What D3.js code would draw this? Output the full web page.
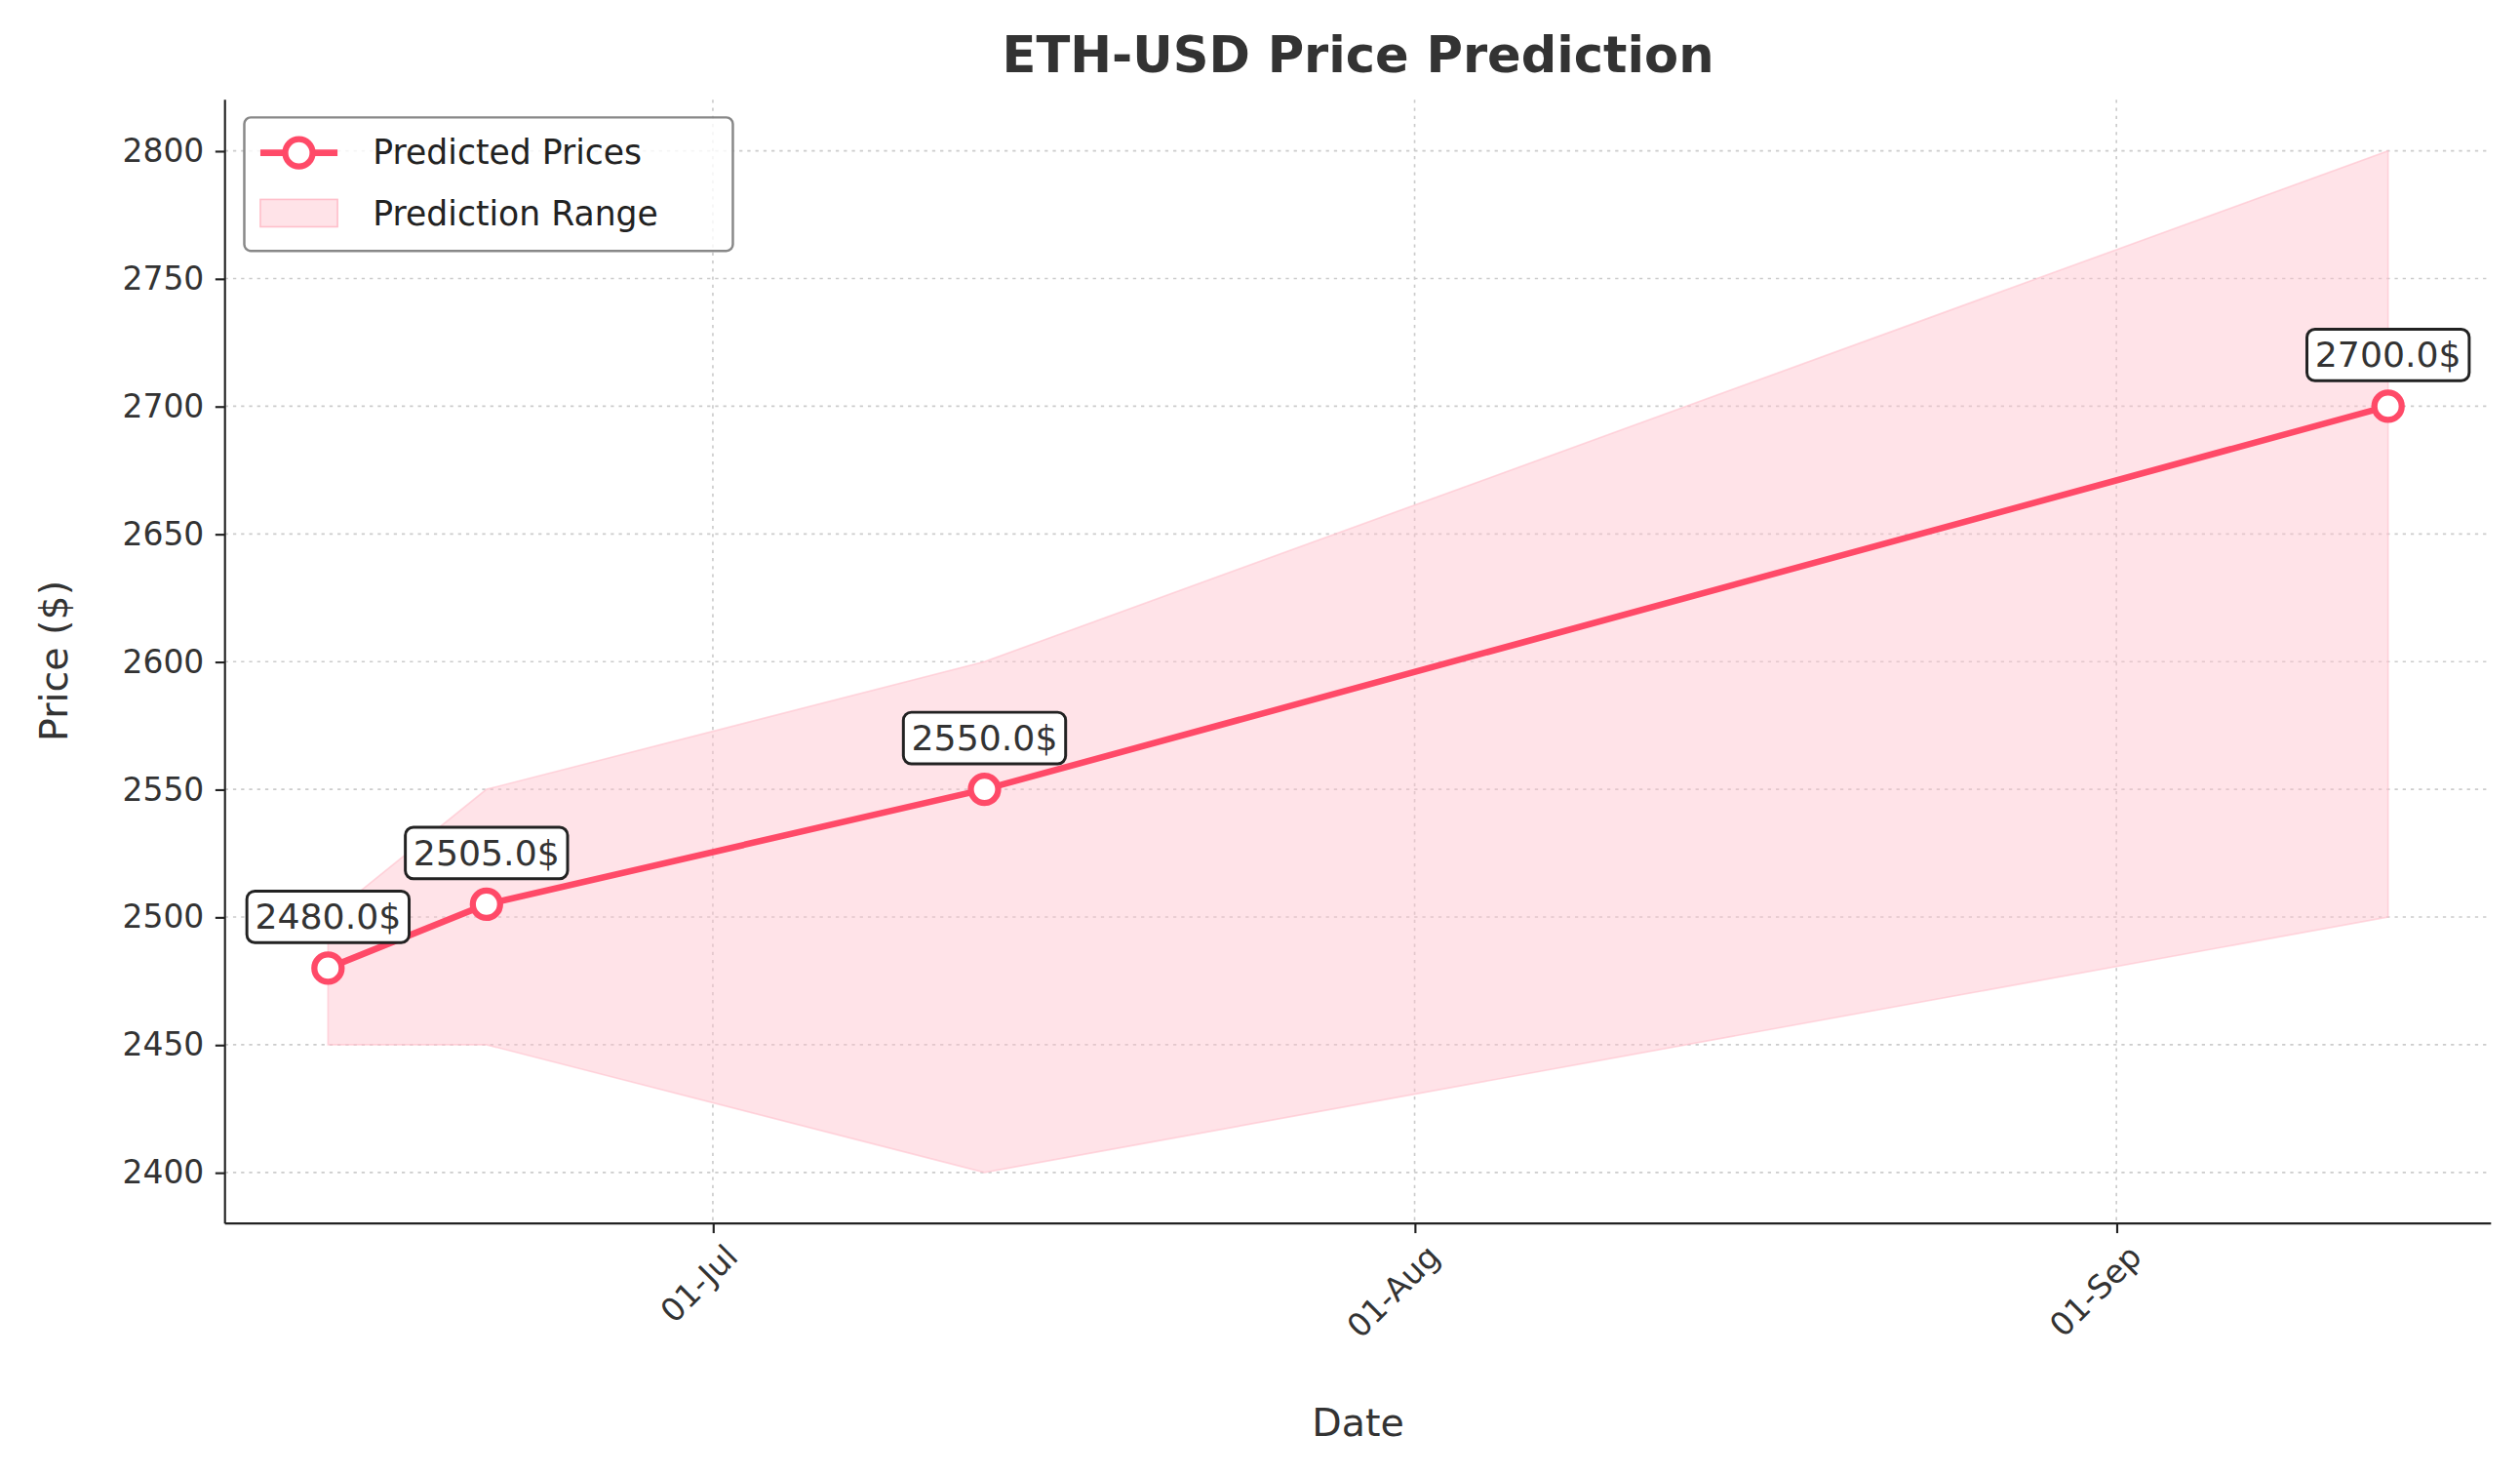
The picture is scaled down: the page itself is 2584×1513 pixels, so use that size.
<!DOCTYPE html>
<html><head><meta charset="utf-8">
<script src="https://cdn.jsdelivr.net/npm/d3@7"></script>
<style>body{margin:0;background:#fff}</style></head>
<body><svg id="c" width="2584" height="1513" viewBox="0 0 1568 918"></svg>
<script>
const dates = ["2024-06-14","2024-06-21","2024-07-13","2024-09-13"];
const predicted = [2480, 2505, 2550, 2700];
const lower = [2450, 2450, 2400, 2500];
const upper = [2500, 2550, 2600, 2800];
const yTicks = [2400,2450,2500,2550,2600,2650,2700,2750,2800];
const xTicks = ["2024-07-01","2024-08-01","2024-09-01"];
const P = d3.utcParse("%Y-%m-%d");
const data = dates.map((d,i)=>({d:P(d),p:predicted[i],lo:lower[i],hi:upper[i]}));
const svg = d3.select("#c");
const L=140,R=1550,T=62,B=761;
const span = data[3].d - data[0].d;
const x = d3.scaleUtc().domain([new Date(+data[0].d - span*0.05), new Date(+data[3].d + span*0.05)]).range([L,R]);
const y = d3.scaleLinear().domain([2380,2820]).range([B,T]);
const font="DejaVu Sans, sans-serif";
svg.append("g").selectAll("line").data(yTicks).join("line").attr("x1",L).attr("x2",R)
 .attr("y1",d=>y(d)).attr("y2",d=>y(d)).attr("stroke","#ccc").attr("stroke-dasharray","2,3");
svg.append("g").selectAll("line").data(xTicks).join("line").attr("y1",T).attr("y2",B)
 .attr("x1",d=>x(P(d))).attr("x2",d=>x(P(d))).attr("stroke","#ccc").attr("stroke-dasharray","2,3");
svg.append("path").datum(data).attr("d",d3.area().x(d=>x(d.d)).y0(d=>y(d.lo)).y1(d=>y(d.hi)))
 .attr("fill","#ffc0cb").attr("fill-opacity",0.45).attr("stroke","#ffc0cb").attr("stroke-opacity",0.6);
svg.append("path").datum(data).attr("d",d3.line().x(d=>x(d.d)).y(d=>y(d.p)))
 .attr("fill","none").attr("stroke","#ff4a68").attr("stroke-width",4);
svg.append("g").selectAll("circle").data(data).join("circle").attr("cx",d=>x(d.d)).attr("cy",d=>y(d.p))
 .attr("r",8.5).attr("fill","#fff").attr("stroke","#ff4a68").attr("stroke-width",3.8);
data.forEach(d=>{
  const g=svg.append("g").attr("transform",`translate(${x(d.d)},${y(d.p)-32})`);
  const t=g.append("text").text(d.p.toFixed(1)+"$").attr("text-anchor","middle").attr("dy","0.35em")
   .attr("font-family",font).attr("font-size",22).attr("fill","#333");
  const bb=t.node().getBBox();
  g.insert("rect","text").attr("x",bb.x-5).attr("y",bb.y-3).attr("width",bb.width+10).attr("height",bb.height+6)
   .attr("rx",5).attr("fill","#fff").attr("stroke","#222").attr("stroke-width",1.8);
});
const ya=svg.append("g").attr("transform",`translate(${L},0)`).call(d3.axisLeft(y).tickValues(yTicks).tickFormat(d3.format("d")).tickSize(6).tickPadding(7));
const xa=svg.append("g").attr("transform",`translate(0,${B})`).call(d3.axisBottom(x).tickValues(xTicks.map(P)).tickFormat(d3.utcFormat("%d-%b")).tickSize(6));
[ya,xa].forEach(a=>{a.selectAll("text").attr("font-family",font).attr("font-size",20).attr("fill","#333");
 a.selectAll("line,path").attr("stroke","#222").attr("stroke-width",1.3);});
ya.select(".domain").attr("d",`M0,${T}V${B}`);
xa.select(".domain").attr("d",`M${L},0H${R}`);
xa.selectAll("text").attr("text-anchor","end").attr("dx","-0.2em").attr("dy","0.9em").attr("transform","rotate(-45)");
svg.append("text").text("ETH-USD Price Prediction").attr("x",845).attr("y",45).attr("text-anchor","middle")
 .attr("font-family",font).attr("font-size",31).attr("font-weight","bold").attr("fill","#333");
svg.append("text").text("Date").attr("x",845).attr("y",893).attr("text-anchor","middle").attr("font-family",font).attr("font-size",24).attr("fill","#333");
svg.append("text").text("Price ($)").attr("transform","translate(42,411) rotate(-90)").attr("text-anchor","middle").attr("font-family",font).attr("font-size",24).attr("fill","#333");
const lg=svg.append("g");
lg.append("rect").attr("x",152).attr("y",73).attr("width",304).attr("height",83).attr("rx",4).attr("fill","#fff").attr("fill-opacity",0.8).attr("stroke","#888").attr("stroke-width",1.5);
lg.append("line").attr("x1",162).attr("x2",210).attr("y1",95).attr("y2",95).attr("stroke","#ff4a68").attr("stroke-width",4);
lg.append("circle").attr("cx",186).attr("cy",95).attr("r",8.5).attr("fill","#fff").attr("stroke","#ff4a68").attr("stroke-width",3.8);
lg.append("rect").attr("x",162).attr("y",124).attr("width",48).attr("height",17).attr("fill","#ffc0cb").attr("fill-opacity",0.45).attr("stroke","#ffc0cb");
lg.append("text").text("Predicted Prices").attr("x",232).attr("y",102).attr("font-family",font).attr("font-size",21).attr("fill","#222");
lg.append("text").text("Prediction Range").attr("x",232).attr("y",140).attr("font-family",font).attr("font-size",21).attr("fill","#222");
</script></body></html>
